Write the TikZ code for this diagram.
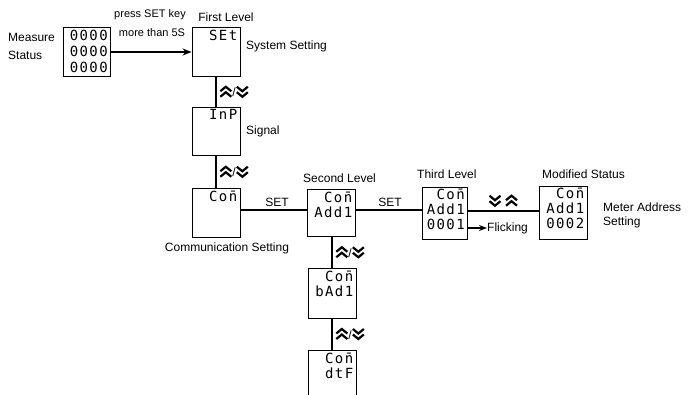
\documentclass[tikz,border=0pt]{standalone}
\usepackage{fontspec}
\usepackage{xcolor}
\usepackage{tikz}
\usetikzlibrary{arrows.meta}
\setmainfont{Liberation Sans}
\newfontfamily\segfont{DejaVu Sans Mono}[LetterSpace=10]
\newcommand{\chup}{\tikz[baseline=0pt,line width=2.2pt,line join=miter]{\draw (0pt,0pt)--(5.5pt,4.5pt)--(11pt,0pt) (0pt,5.5pt)--(5.5pt,10pt)--(11pt,5.5pt);}}
\newcommand{\chdn}{\tikz[baseline=0pt,line width=2.2pt,line join=miter]{\draw (0pt,10pt)--(5.5pt,5.5pt)--(11pt,10pt) (0pt,4.5pt)--(5.5pt,0pt)--(11pt,4.5pt);}}
\begin{document}
\begin{tikzpicture}[x=1pt,y=-1pt,
    panel/.style={draw, line width=0.9pt, minimum width=48pt, minimum height=49pt, inner sep=0pt},
    seg/.style={font=\segfont\fontsize{14}{15}\selectfont, anchor=north east, align=right, inner sep=2pt},
    txt/.style={font=\fontsize{12}{14}\selectfont, inner sep=0pt},
    small/.style={font=\fontsize{11}{13}\selectfont, inner sep=0pt},
    link/.style={line width=1.5pt},
    keys/.style={inner sep=0pt, font=\fontsize{12}{14}\selectfont}]
  \clip (0,0) rectangle (691,394);

  % display panels
  \node[panel, minimum width=47pt] (meas) at (87,52) {};
  \node[panel] (set) at (216,52) {};
  \node[panel, minimum height=48pt] (inp) at (216,131) {};
  \node[panel] (con) at (216,213) {};
  \node[panel, minimum height=47pt] (addr) at (331,213) {};
  \node[panel, minimum width=45pt, minimum height=52pt] (third) at (445,213) {};
  \node[panel, minimum height=53pt] (modi) at (563,213) {};
  \node[panel, minimum height=50pt] (bad) at (332,293) {};
  \node[panel, minimum height=50pt] (dtf) at (332,375) {};

  % display contents
  \node[seg, font=\segfont\fontsize{14}{16}\selectfont] (meas-d) at ([shift={(-1,1)}]meas.north east) {0000\\0000\\0000};
  \node[seg] (set-d) at ([shift={(-1,1)}]set.north east) {SEt};
  \node[seg] (inp-d) at ([shift={(-1,1)}]inp.north east) {InP};
  \node[seg] (con-d) at ([shift={(-1,1)}]con.north east) {Co\=n};
  \node[seg] (addr-d) at ([shift={(-1,1)}]addr.north east) {Co\=n\\Add1};
  \node[seg] (third-d) at ([shift={(-1,0)}]third.north east) {Co\=n\\Add1\\0001};
  \node[seg] (modi-d) at ([shift={(-1,0)}]modi.north east) {Co\=n\\Add1\\0002};
  \node[seg] (bad-d) at ([shift={(-1,1)}]bad.north east) {Co\=n\\bAd1};
  \node[seg] (dtf-d) at ([shift={(-1,1)}]dtf.north east) {Co\=n\\dtF};

  % texts
  \node[txt, anchor=west, align=left] (meas-t) at (8,46) {Measure\\[4pt]Status};
  \node[small] (press) at (150,15) {press SET key};
  \node[small] (more) at (152,33) {more than 5S};
  \node[txt] (lvl1) at (226,17) {First Level};
  \node[txt, anchor=west] (set-t) at (246,46) {System Setting};
  \node[txt, anchor=west] (inp-t) at (246,131) {Signal};
  \node[txt] (con-t) at (227,248) {Communication Setting};
  \node[txt, anchor=west] (lvl2) at (303,178) {Second Level};
  \node[txt, anchor=west] (lvl3) at (417,174) {Third Level};
  \node[txt, anchor=west] (lvl4) at (542,174) {Modified Status};
  \node[txt, anchor=west, align=left] (modi-t) at (603,215) {Meter Address\\Setting};
  \node[txt] (set1) at (277,202) {SET};
  \node[txt] (set2) at (390,202) {SET};
  \node[txt, anchor=west] (flick) at (487,228) {Flicking};

  % connectors
  \draw[link, -{Stealth[length=9pt,width=7pt]}] (meas.east) -- (set.west);
  \draw[link] (set) -- node[keys, right=3pt] (k1) {\chup/\chdn} (inp);
  \draw[link] (inp) -- node[keys, right=3pt] (k2) {\chup/\chdn} (con);
  \draw[link] ([yshift=3pt]con.east) -- ([yshift=3pt]addr.west);
  \draw[link] ([yshift=3pt]addr.east) -- ([yshift=3pt]third.west);
  \draw[link] ([yshift=2pt]third.east) -- node[keys, above=4pt] (k3) {\chdn\ \chup} ([yshift=2pt]modi.west);
  \draw[link, -{Stealth[length=8pt,width=6pt]}] (third.east |- flick.west) -- (flick.west);
  \draw[link] ([xshift=1pt]addr.south) -- node[keys, right=3pt] (k4) {\chup/\chdn} (bad);
  \draw[link] (bad) -- node[keys, right=3pt] (k5) {\chup/\chdn} (dtf);
\end{tikzpicture}
\end{document}
